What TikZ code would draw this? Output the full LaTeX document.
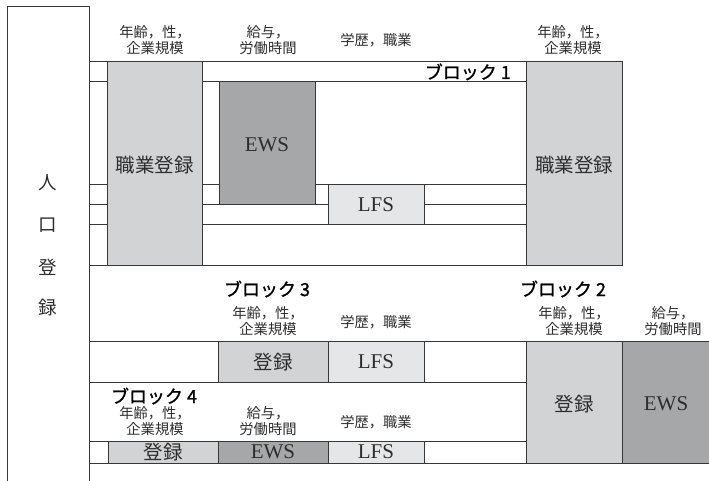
\documentclass[tikz,border=0pt]{standalone}
\usepackage{fontspec}
\newfontfamily\jp{Noto Sans CJK JP}
\newfontfamily\jpb[FakeBold=1.2]{Noto Sans CJK JP}
\newfontfamily\srcfont{Liberation Serif}
\usetikzlibrary{positioning}

\definecolor{regc}{RGB}{210,211,213}
\definecolor{ewsc}{RGB}{166,167,169}
\definecolor{lfsc}{RGB}{229,230,231}
\definecolor{linec}{RGB}{55,55,55}
\definecolor{txtc}{RGB}{45,45,45}

\tikzset{
  frame/.style={draw=linec,line width=0.9pt},
  regbox/.style={frame,fill=regc},
  ewsbox/.style={frame,fill=ewsc},
  lfsbox/.style={frame,fill=lfsc},
  hdr/.style={text=txtc,align=center,inner sep=0pt,font=\jp\fontsize{14.3}{16.5}\selectfont},
  blk/.style={text=black,inner sep=0pt,font=\jpb\fontsize{18}{19}\selectfont},
  boxtxt/.style={text=txtc,inner sep=0pt,font=\jp\fontsize{19.5}{21}\selectfont},
  srctxt/.style={text=txtc,inner sep=0pt,font=\srcfont\fontsize{21}{22}\selectfont}
}

\begin{document}
\begin{tikzpicture}[x=1pt,y=-1pt]
\useasboundingbox (0,0) rectangle (709,480);

% population register
\draw[frame] (7,500) -- (7,6) -- (89,6) -- (89,500);
\foreach \t/\y in {人/183,口/225,登/267,録/307}
  \node[boxtxt,font=\jp\fontsize{18.5}{19}\selectfont] (pop\y) at (48,\y) {\t};

% block 1
\foreach \y in {81,184,204,224}
  \draw[frame] (89,\y) -- (526,\y);
\draw[frame] (89,61) -- (622,61);
\draw[frame] (89,265) -- (622,265);
\draw[regbox] (107,61) rectangle (202,265);
\draw[ewsbox] (219,81) rectangle (315,204);
\draw[lfsbox] (328,184) rectangle (424,224);
\draw[regbox] (526,61) rectangle (622,265);
\node[boxtxt] (reg1l) at (154.5,165) {職業登録};
\node[srctxt] (ews1) at (267,145) {EWS};
\node[srctxt] (lfs1) at (376,205) {LFS};
\node[boxtxt] (reg1r) at (574,165) {職業登録};
\node[blk,anchor=south east] (blk1) at (511,80.5) {ブロック 1};

\node[hdr] (h1a) at (155,40) {年齢，性，\\企業規模};
\node[hdr] (h1b) at (268,40) {給与，\\労働時間};
\node[hdr] (h1c) at (376,40) {学歴，職業};
\node[hdr] (h1d) at (573,40) {年齢，性，\\企業規模};

% blocks 2, 3, 4
\draw[frame] (89,341) -- (715,341);
\draw[frame] (89,382) -- (526,382);
\draw[frame] (89,441) -- (526,441);
\draw[frame] (89,463) -- (715,463);

\draw[regbox] (218,341) rectangle (328,382);
\draw[lfsbox] (328,341) rectangle (424,382);
\node[boxtxt] (reg3) at (273,362) {登録};
\node[srctxt] (lfs3) at (376,362) {LFS};

\draw[regbox] (108,441) rectangle (218,463);
\draw[ewsbox] (218,441) rectangle (328,463);
\draw[lfsbox] (328,441) rectangle (424,463);
\node[boxtxt] (reg4) at (163,452) {登録};
\node[srctxt] (ews4) at (273,452) {EWS};
\node[srctxt] (lfs4) at (376,452) {LFS};

\draw[regbox] (526,341) rectangle (622,463);
\draw[ewsbox] (622,341) rectangle (715,463);
\node[boxtxt] (reg2) at (574,404) {登録};
\node[srctxt] (ews2) at (666,404) {EWS};

\node[blk] (blk3) at (267,289) {ブロック 3};
\node[hdr] (h3a) at (268,321) {年齢，性，\\企業規模};
\node[hdr] (h3c) at (376,322) {学歴，職業};

\node[blk] (blk2) at (563,289) {ブロック 2};
\node[hdr] (h2a) at (574,321) {年齢，性，\\企業規模};
\node[hdr] (h2b) at (673,321) {給与，\\労働時間};

\node[blk] (blk4) at (154,396) {ブロック 4};
\node[hdr] (h4a) at (155,421) {年齢，性，\\企業規模};
\node[hdr] (h4b) at (268,421) {給与，\\労働時間};
\node[hdr] (h4c) at (376,422) {学歴，職業};

\end{tikzpicture}
\end{document}
